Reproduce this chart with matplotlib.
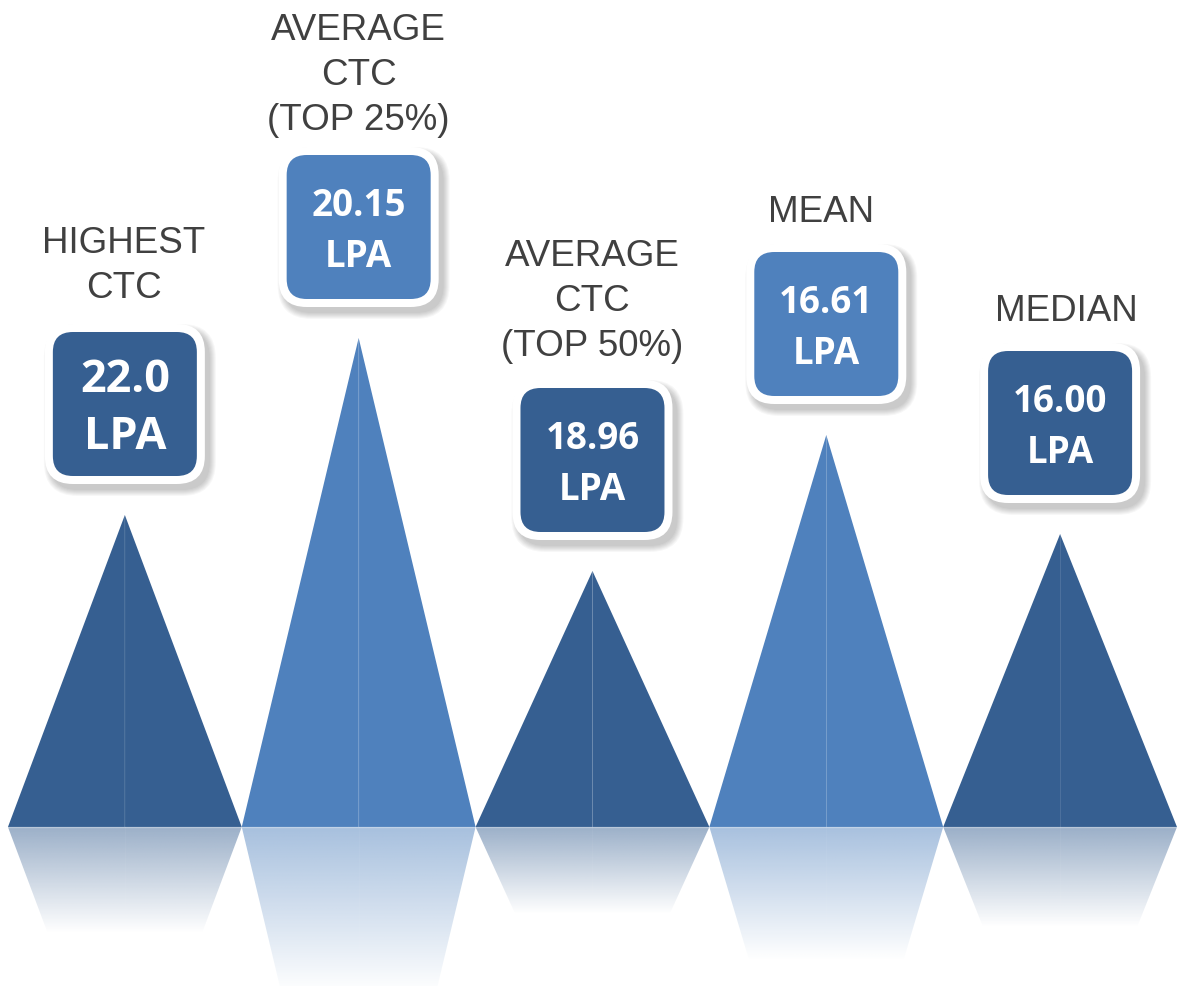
import numpy as np
import matplotlib
matplotlib.use("Agg")
import matplotlib.pyplot as plt
from matplotlib.patches import Polygon, FancyBboxPatch
from matplotlib.colors import to_rgb

# ---- data ----
categories = ["HIGHEST\nCTC", "AVERAGE\nCTC\n(TOP 25%)", "AVERAGE\nCTC\n(TOP 50%)", "MEAN", "MEDIAN"]
values = [22.0, 20.15, 18.96, 16.61, 16.00]
value_labels = ["22.0", "20.15", "18.96", "16.61", "16.00"]
unit = "LPA"
peak_heights = [312, 489, 256, 392, 293]   # decorative peak heights (px above baseline)

# ---- styles ----
DARK = "#365F91"
LIGHT = "#4F81BD"
colors = [DARK, LIGHT, DARK, LIGHT, DARK]
label_gaps = [34, 25, 32, 30, 30]
label_dx = [-1, 0, 0, -5, 6]
W, H = 1177, 986

fig = plt.figure(figsize=(W / 100, H / 100), dpi=100)
fig.patch.set_facecolor("white")
ax = fig.add_axes([0, 0, 1, 1])
ax.axis("off")

XLIM = (-0.534, 4.5)
YLIM = (-159, 827)

for i, (h, c) in enumerate(zip(peak_heights, colors)):
    # reflection
    d = 0.34 * h
    f = 0.5 * d / h
    refl = Polygon([(i - 0.5, 0), (i + 0.5, 0), (i + 0.5 - f, -d), (i - 0.5 + f, -d)],
                   closed=True, fc="none", ec="none", transform=ax.transData)
    ax.add_patch(refl)
    n = 256
    grad = np.zeros((n, 1, 4))
    grad[:, 0, :3] = to_rgb(c)
    grad[:, 0, 3] = np.linspace(0.5, 0.0, n)
    im = ax.imshow(grad, extent=(i - 0.5, i + 0.5, -d, 0), origin="upper",
                   aspect="auto", interpolation="bilinear", zorder=1)
    im.set_clip_path(refl)
    ax.plot([i, i], [0, -d * 0.9], color="white", lw=0.6, alpha=0.05, zorder=1.5)
    # triangle halves
    ax.add_patch(Polygon([(i - 0.5, 0), (i, h), (i, 0)], closed=True, fc=c, ec="none", zorder=2))
    ax.add_patch(Polygon([(i, 0), (i, h), (i + 0.5, 0)], closed=True, fc=c, ec="none", zorder=2))
    ax.plot([i, i], [0, h * 0.995], color="white", lw=0.6, alpha=0.04, zorder=2.5)

# light strip at baseline
ax.axhline(0, color="white", lw=1.0, alpha=0.3, zorder=3)

ax.set_xlim(*XLIM)
ax.set_ylim(*YLIM)

# overlay in pixel coordinates
ov = fig.add_axes([0, 0, 1, 1])
ov.set_xlim(0, W)
ov.set_ylim(0, H)
ov.axis("off")
ov.patch.set_alpha(0)

inv = ov.transData.inverted()
for i, (h, c, lab, vl) in enumerate(zip(peak_heights, colors, categories, value_labels)):
    cx, cy = inv.transform(ax.transData.transform((i, h + 111)))
    # shadow
    for k in range(7):
        ov.add_patch(FancyBboxPatch((cx - 80 + 5 - k, cy - 80 - 6 - k), 160 + 2 * k, 160 + 2 * k,
                                    boxstyle=f"round,pad=0,rounding_size={28 + k}",
                                    fc="black", ec="none", alpha=0.03, zorder=3))
    ov.add_patch(FancyBboxPatch((cx - 80, cy - 80), 160, 160,
                                boxstyle="round,pad=0,rounding_size=28",
                                fc="white", ec="none", zorder=4))
    ov.add_patch(FancyBboxPatch((cx - 72, cy - 72), 144, 144,
                                boxstyle="round,pad=0,rounding_size=20",
                                fc=c, ec="none", zorder=5))
    if i == 0:
        fs, up, dn = 32.5, 12, 45
    else:
        fs, up, dn = 26.5, 11, 40
    ov.text(cx, cy + up, vl, ha="center", va="baseline", fontsize=fs,
            fontfamily="Open Sans", fontweight="bold", color="white", zorder=6)
    ov.text(cx, cy - dn, unit, ha="center", va="baseline", fontsize=fs,
            fontfamily="Open Sans", fontweight="bold", color="white", zorder=6)
    lines = lab.split("\n")
    base = cy + 72 + label_gaps[i]
    for j, line in enumerate(reversed(lines)):
        ov.text(cx + label_dx[i], base + 45 * j, line, ha="center", va="baseline",
                fontsize=26.5, fontfamily="Liberation Sans", color="#404040", zorder=6)

fig.savefig("out.png", dpi=100, facecolor="white")
